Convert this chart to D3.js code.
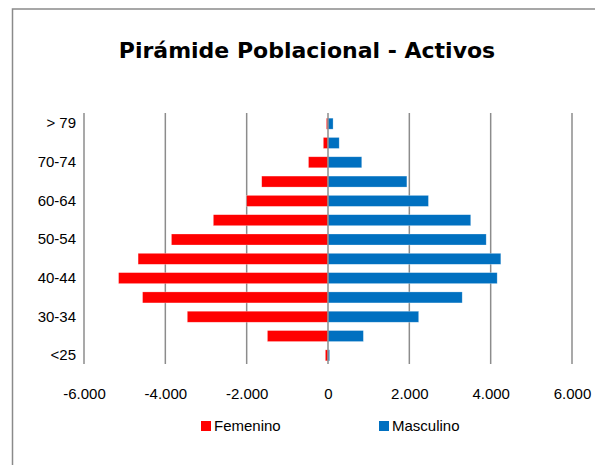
<!DOCTYPE html>
<html lang="es">
<head>
<meta charset="UTF-8">
<script src="https://d3js.org/d3.v7.min.js"></script>
<style>
  body { margin: 0; background: #fff; }
  svg { display: block; }
</style>
</head>
<body>
<div id="chart"></div>
<script>
    // age groups, bottom to top
    var ageGroups = ["<25", "25-29", "30-34", "35-39", "40-44", "45-49", "50-54",
                     "55-59", "60-64", "65-69", "70-74", "75-79", "> 79"];
    var femenino = [-65, -1490, -3460, -4560, -5150, -4670, -3850,
                    -2820, -2000, -1630, -480, -115, -40];
    var masculino = [40, 870, 2230, 3300, 4160, 4250, 3890,
                     3510, 2470, 1940, 830, 275, 125];
    var xTicks = [-6000, -4000, -2000, 0, 2000, 4000, 6000];
    var seriesNames = ["Femenino", "Masculino"];

    var colors = { "Femenino": "#ff0000", "Masculino": "#0070c0" };

    var width = 595, height = 465;
    var margin = {top: 113, right: 23, bottom: 101, left: 84};

    var svg = d3.select("#chart").append("svg")
        .attr("width", width)
        .attr("height", height);

    // chart frame (runs off the right and bottom edge)
    svg.append("rect")
        .attr("x", 12.5).attr("y", 9)
        .attr("width", 620).attr("height", 480)
        .attr("fill", "none")
        .attr("stroke", "#8a8a8a")
        .attr("stroke-width", 1.5);

    svg.append("text")
        .attr("x", 307)
        .attr("y", 58)
        .attr("text-anchor", "middle")
        .attr("font-family", "'DejaVu Sans', sans-serif")
        .attr("font-weight", "bold")
        .attr("font-size", 22)
        .attr("fill", "#000")
        .text("Pirámide Poblacional - Activos");

    var x = d3.scaleLinear()
        .domain([-6000, 6000])
        .range([margin.left, width - margin.right]);

    var y = d3.scaleBand()
        .domain(ageGroups.slice().reverse())
        .range([margin.top + 1, height - margin.bottom + 1])
        .paddingInner(0.43)
        .paddingOuter(0.215);

    // gridlines
    svg.append("g")
        .selectAll("line")
        .data(xTicks.filter(d => d !== 0))
        .join("line")
        .attr("x1", d => x(d)).attr("x2", d => x(d))
        .attr("y1", margin.top).attr("y2", height - margin.bottom)
        .attr("stroke", "#8c8c8c")
        .attr("stroke-width", 1.5);

    var rows = ageGroups.map((g, i) => ({group: g, Femenino: femenino[i], Masculino: masculino[i]}));

    seriesNames.forEach(function(name) {
        svg.append("g")
            .attr("fill", colors[name])
            .selectAll("rect")
            .data(rows)
            .join("rect")
            .attr("x", d => x(Math.min(0, d[name])))
            .attr("y", d => y(d.group))
            .attr("width", d => Math.abs(x(d[name]) - x(0)))
            .attr("height", y.bandwidth())
            .attr("stroke", "#fff")
            .attr("stroke-opacity", 0.45)
            .attr("stroke-width", 0.6);
    });

    // vertical axis line at zero
    svg.append("line")
        .attr("x1", x(0)).attr("x2", x(0))
        .attr("y1", margin.top).attr("y2", height - margin.bottom)
        .attr("stroke", "#8c8c8c")
        .attr("stroke-width", 1.5);

    var labelFont = "'Liberation Sans', Arial, sans-serif";

    // x axis labels
    svg.append("g")
        .attr("transform", `translate(0,${height - margin.bottom})`)
        .call(d3.axisBottom(x)
            .tickValues(xTicks)
            .tickSize(0)
            .tickPadding(24)
            .tickFormat(d => d3.format(",")(d).replace(/,/g, ".").replace("−", "-")))
        .call(g => g.select(".domain").remove())
        .call(g => g.selectAll("text")
            .attr("font-family", labelFont)
            .attr("font-size", 15)
            .attr("fill", "#000"));

    // y axis labels, every other group
    svg.append("g")
        .attr("transform", `translate(${margin.left},0)`)
        .call(d3.axisLeft(y)
            .tickSize(0)
            .tickPadding(8)
            .tickFormat((d) => ageGroups.indexOf(d) % 2 === 0 ? d : ""))
        .call(g => g.select(".domain").remove())
        .call(g => g.selectAll("text")
            .attr("font-family", labelFont)
            .attr("font-size", 15)
            .attr("fill", "#000"));

    // legend
    var legendX = [201, 379];
    var legend = svg.append("g")
        .selectAll("g")
        .data(seriesNames)
        .join("g")
        .attr("transform", (d, i) => `translate(${legendX[i]},421)`);
    legend.append("rect")
        .attr("width", 10).attr("height", 10)
        .attr("fill", d => colors[d]);
    legend.append("text")
        .attr("x", 13)
        .attr("y", 10)
        .attr("font-family", labelFont)
        .attr("font-size", 15)
        .attr("fill", "#000")
        .text(d => d);
</script>
</body>
</html>
